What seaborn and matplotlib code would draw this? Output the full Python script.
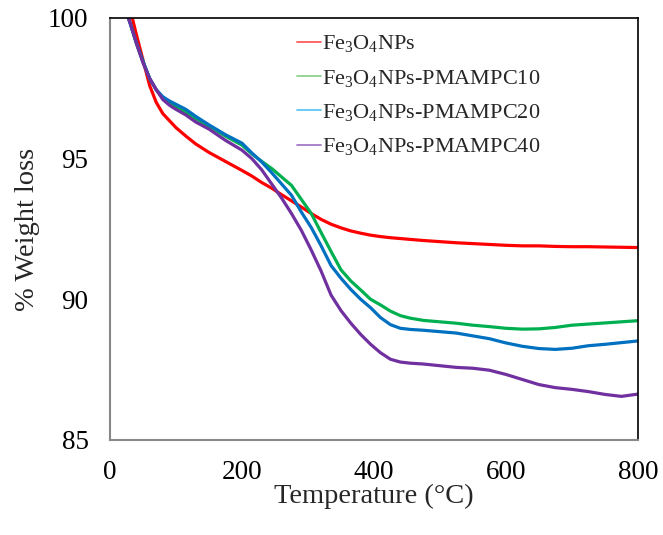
import numpy as np
import pandas as pd
import seaborn as sns
import matplotlib.pyplot as plt

temp = [20, 30, 40, 50, 60, 70, 80, 90, 100, 115, 130, 150, 175, 200, 215, 230, 245,
        260, 275, 290, 305, 320, 335, 350, 365, 380, 395, 410, 425, 440, 455, 475,
        500, 525, 550, 575, 600, 625, 650, 675, 700, 725, 750, 775, 800]

fe3o4 = [101.0, 100.35, 99.4, 98.5, 97.6, 97.0, 96.6, 96.35, 96.1, 95.8, 95.52, 95.22,
         94.9, 94.58, 94.38, 94.15, 93.95, 93.72, 93.5, 93.28, 93.05, 92.84, 92.67,
         92.54, 92.43, 92.35, 92.28, 92.23, 92.19, 92.16, 92.13, 92.09, 92.05, 92.01,
         91.98, 91.95, 91.92, 91.9, 91.9, 91.88, 91.87, 91.87, 91.86, 91.85, 91.84]
pmampc10 = [100.5, 99.85, 99.1, 98.45, 97.85, 97.45, 97.15, 97.0, 96.85, 96.65, 96.42,
            96.15, 95.8, 95.48, 95.17, 94.9, 94.65, 94.35, 94.05, 93.55, 93.05, 92.37,
            91.7, 91.05, 90.65, 90.33, 90.0, 89.8, 89.58, 89.42, 89.33, 89.25, 89.2,
            89.15, 89.08, 89.03, 88.97, 88.94, 88.95, 89.0, 89.08, 89.12, 89.16, 89.2, 89.24]
pmampc20 = [100.5, 99.85, 99.1, 98.45, 97.85, 97.45, 97.2, 97.05, 96.93, 96.75, 96.5,
            96.2, 95.85, 95.55, 95.2, 94.88, 94.5, 94.1, 93.7, 93.1, 92.55, 91.9, 91.2,
            90.75, 90.35, 90.0, 89.7, 89.35, 89.1, 88.97, 88.93, 88.9, 88.85, 88.8, 88.7,
            88.6, 88.45, 88.33, 88.25, 88.22, 88.26, 88.35, 88.4, 88.46, 88.52]
pmampc40 = [100.5, 99.85, 99.1, 98.4, 97.85, 97.45, 97.1, 96.9, 96.75, 96.55, 96.3,
            96.05, 95.65, 95.3, 95.0, 94.6, 94.1, 93.6, 93.05, 92.45, 91.75, 91.0, 90.15,
            89.6, 89.15, 88.75, 88.4, 88.1, 87.87, 87.77, 87.73, 87.7, 87.64, 87.58, 87.55,
            87.48, 87.33, 87.15, 86.97, 86.86, 86.8, 86.72, 86.62, 86.55, 86.63]

labels = [r'$\mathregular{Fe_3O_4}$NPs',
          r'$\mathregular{Fe_3O_4}$NPs-PMAMPC10',
          r'$\mathregular{Fe_3O_4}$NPs-PMAMPC20',
          r'$\mathregular{Fe_3O_4}$NPs-PMAMPC40']
colors = ['#ff0000', '#00b050', '#0070c0', '#7030a0']
legend_colors = ['#ff5a5a', '#8fd18f', '#5cc8f0', '#a27ac8']

frames = []
for lab, vals in zip(labels, [fe3o4, pmampc10, pmampc20, pmampc40]):
    frames.append(pd.DataFrame({'Temperature': temp, 'Weight': vals, 'Sample': lab}))
df = pd.concat(frames, ignore_index=True)

sns.set_style('white')
plt.rcParams['font.family'] = ['Liberation Serif', 'DejaVu Serif']

fig = plt.figure(figsize=(6.63, 5.35), dpi=100)
ax = fig.add_axes([0.166, 0.1776, 0.796, 0.7888])

sns.lineplot(data=df, x='Temperature', y='Weight', hue='Sample', palette=colors,
             linewidth=2.3, ax=ax, sort=False)

ax.set_xlim(0, 800)
ax.set_ylim(85, 100)
ax.set_xticks([0, 200, 400, 600, 800])
ax.set_yticks([85, 90, 95, 100])
ax.tick_params(axis='both', labelsize=19.5, direction='out', length=6.5, width=1.2,
               color='#888888', labelcolor='black')
ax.tick_params(axis='x', pad=8)
ax.tick_params(axis='y', pad=9)

for s in ['left', 'bottom']:
    ax.spines[s].set_color('#888888')
    ax.spines[s].set_linewidth(1.5)
for s in ['top', 'right']:
    ax.spines[s].set_color('black')
    ax.spines[s].set_linewidth(1.2)

ax.set_xlabel('Temperature (°C)', fontsize=20.5, labelpad=-1)
ax.set_ylabel('% Weight loss', fontsize=20.5, labelpad=6)

leg = ax.legend(loc='upper left', bbox_to_anchor=(0.333, 0.99), frameon=False,
                fontsize=16, handlelength=1.1, handletextpad=0.05, labelspacing=0.6,
                borderpad=0)
for line, c in zip(leg.get_lines(), legend_colors):
    line.set_color(c)
    line.set_linewidth(1.3)

plt.savefig('out.png', dpi=100)
